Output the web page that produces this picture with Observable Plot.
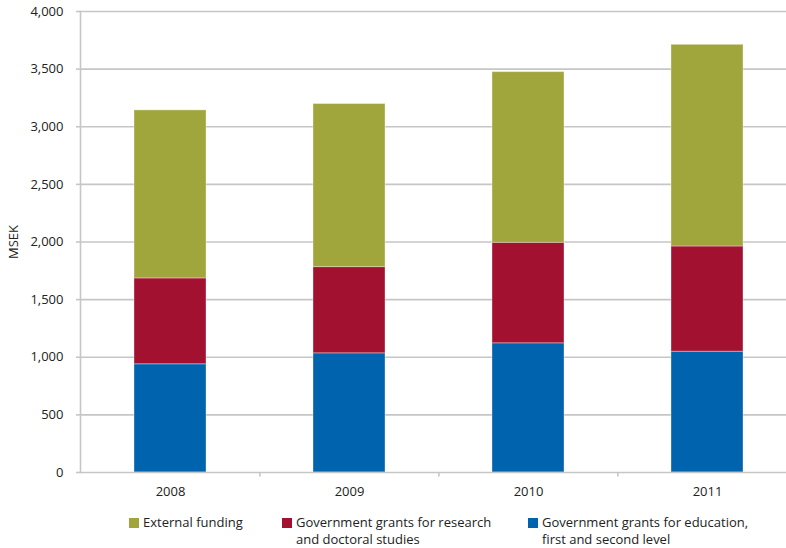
<!DOCTYPE html>
<html>
<head>
<meta charset="utf-8">
<script src="https://cdn.jsdelivr.net/npm/d3@7"></script>
<script src="https://cdn.jsdelivr.net/npm/@observablehq/plot@0.6"></script>
<style>
  html, body { margin: 0; padding: 0; background: #fff; }
  #wrap { position: relative; width: 786px; height: 548px; font-family: "Open Sans", sans-serif; color: #222; }
  #legend { position: absolute; left: 0; top: 514px; width: 786px; font-size: 13px; line-height: 17px; }
  .item { position: absolute; top: 0; }
  .sw { position: absolute; left: 0; top: 4px; width: 10px; height: 10px; }
  .lbl { position: absolute; left: 14px; top: 0; white-space: nowrap; }
</style>
</head>
<body>
<div id="wrap">
  <div id="chart"></div>
  <div id="legend"></div>
</div>
<script>
// Funding by year, MSEK
const years = ["2008", "2009", "2010", "2011"];
const education = [939, 1034, 1121, 1048];
const research = [745, 748, 872, 913];
const external = [1458, 1415, 1481, 1750];

const seriesNames = [
  "Government grants for education, first and second level",
  "Government grants for research and doctoral studies",
  "External funding"
];
const seriesColors = ["#0063ae", "#a31131", "#a0a63b"];
const yTicks = [0, 500, 1000, 1500, 2000, 2500, 3000, 3500, 4000];

// Legend entries, left to right
const legendOrder = [2, 1, 0];
const legendLines = [
  ["External funding"],
  ["Government grants for research", "and doctoral studies"],
  ["Government grants for education,", "first and second level"]
];
const legendLeft = [129, 282, 528];

// long table, bottom segment first
const rows = [];
[education, research, external].forEach((vals, s) => {
  vals.forEach((v, i) => rows.push({year: years[i], series: seriesNames[s], value: v}));
});

const grid = "#c6c6c6";

const chart = Plot.plot({
  width: 786,
  height: 510,
  marginLeft: 80,
  marginRight: 0,
  marginTop: 11,
  marginBottom: 38,
  style: {fontFamily: "Open Sans, sans-serif", fontSize: "13px", color: "#222", background: "#fff"},
  x: {domain: years, range: [80, 797], paddingInner: 0.6, paddingOuter: 0.3},
  y: {domain: [0, 4000]},
  color: {domain: seriesNames, range: seriesColors},
  marks: [
    Plot.ruleY(yTicks.filter(d => d > 0), {stroke: grid, strokeWidth: 1.6}),
    Plot.barY(rows, Plot.stackY({
      x: "year", y: "value", fill: "series",
      stroke: "#fff", strokeOpacity: 0.35, strokeWidth: 1
    })),
    Plot.ruleY([0], {stroke: grid, strokeWidth: 1.6}),
    Plot.frame({anchor: "left", stroke: grid, strokeWidth: 1.6}),
    // separators between year bands on the bottom axis
    Plot.ruleX(years.slice(1), {y1: 0, y2: -40, dx: -179.25 / 2, stroke: grid, strokeWidth: 1.6}),
    Plot.axisY(yTicks, {
      tickFormat: d3.format(","), tickSize: 4, tickPadding: 13,
      stroke: grid, strokeWidth: 1.6, fill: "#222",
      label: "MSEK", labelAnchor: "center", labelArrow: "none", labelOffset: 72
    }),
    Plot.axisX({tickSize: 0, tickPadding: 14, fill: "#222", label: null})
  ]
});
document.getElementById("chart").appendChild(chart);

const legend = document.getElementById("legend");
legendOrder.forEach((s, k) => {
  const item = document.createElement("div");
  item.className = "item";
  item.style.left = legendLeft[k] + "px";
  const sw = document.createElement("div");
  sw.className = "sw";
  sw.style.background = seriesColors[s];
  const lbl = document.createElement("div");
  lbl.className = "lbl";
  lbl.innerHTML = legendLines[k].join("<br>");
  item.appendChild(sw);
  item.appendChild(lbl);
  legend.appendChild(item);
});
</script>
</body>
</html>
